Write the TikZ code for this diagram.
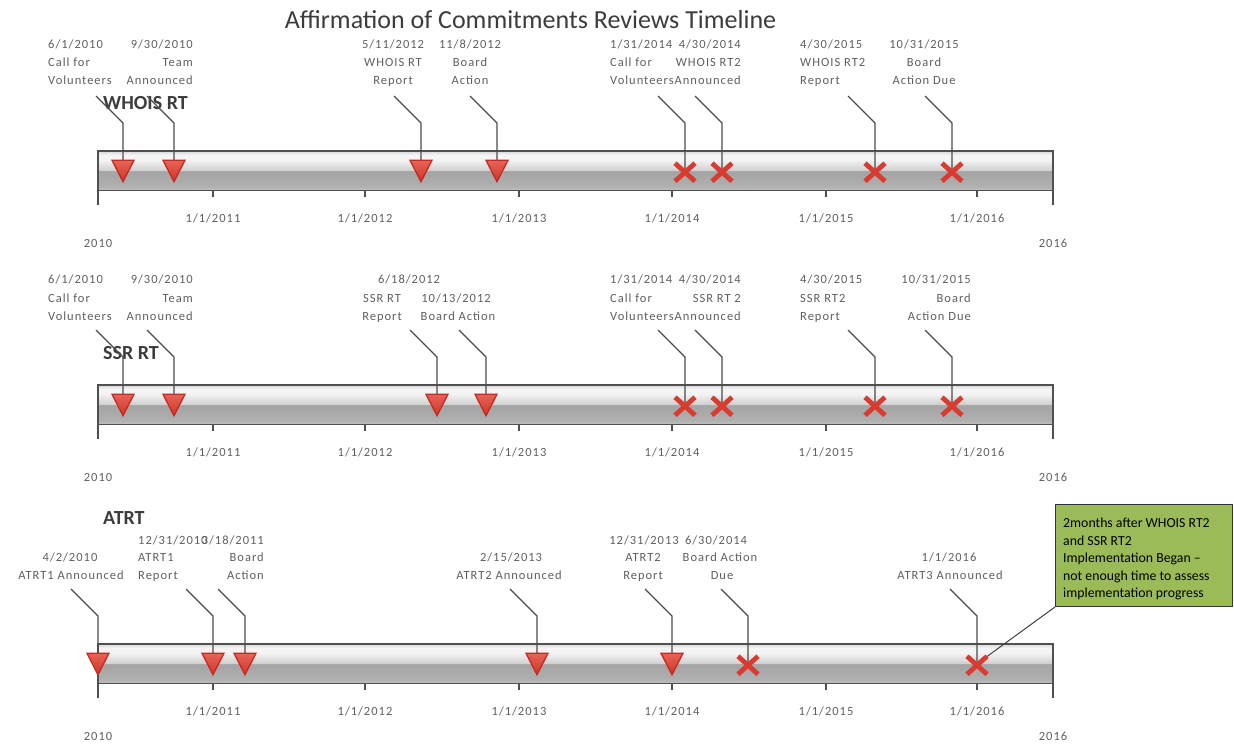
\documentclass[tikz,border=0pt]{standalone}
\usepackage{fontspec}
\setmainfont{Carlito}
\newfontfamily\labfont[LetterSpace=8]{Carlito}
\usetikzlibrary{calc}
\definecolor{labgray}{RGB}{95,95,95}
\definecolor{titlegray}{RGB}{60,60,60}
\definecolor{linegray}{RGB}{75,75,75}
\definecolor{barline}{RGB}{80,80,80}
\definecolor{tritop}{RGB}{230,100,86}
\definecolor{tribot}{RGB}{204,52,42}
\definecolor{triline}{RGB}{200,40,32}
\definecolor{xred}{RGB}{216,60,48}
\definecolor{notegreen}{RGB}{155,187,89}
\definecolor{bbot}{RGB}{192,192,192}
\definecolor{blow}{RGB}{176,176,176}
\definecolor{blow2}{RGB}{164,164,164}
\definecolor{bmid}{RGB}{208,208,208}
\definecolor{bhi}{RGB}{244,244,244}
\definecolor{btop}{RGB}{216,216,216}
\pgfdeclareverticalshading{barshade}{100bp}{color(0bp)=(bbot); color(25bp)=(bbot); color(30bp)=(blow); color(49.6bp)=(blow2); color(50.4bp)=(bmid); color(64bp)=(bhi); color(70bp)=(bhi); color(75bp)=(btop); color(100bp)=(btop)}
\tikzset{
  lab/.style={font=\labfont\fontsize{12.5}{15}\selectfont, text=labgray, inner sep=0pt, text height=8pt, text depth=0pt},
  rowname/.style={font=\bfseries\fontsize{20}{24}\selectfont, text=titlegray, inner sep=0pt, text height=13pt, text depth=0pt, anchor=west},
  titlestyle/.style={font=\fontsize{26}{30}\selectfont, text=titlegray, inner sep=0pt, text height=17pt, text depth=0pt},
  barbox/.style={draw=barline, line width=1.4pt, shading=barshade, minimum width=955pt, minimum height=39.5pt, inner sep=0pt},
  barend/.style={draw=barline, line width=1.4pt},
  tickline/.style={draw=barline, line width=1.3pt},
  leader/.style={draw=linegray, line width=1.1pt},
  trim/.style={draw=triline, line width=1.3pt, top color=tritop, bottom color=tribot, line join=miter},
  xmark/.style={draw=xred, line width=4.8pt},
  note/.style={draw=black!80, line width=1pt, fill=notegreen, minimum width=177pt, minimum height=102pt, inner sep=0pt, anchor=north west},
  notetext/.style={font=\fontsize{13.8}{17.5}\selectfont, text=black, align=left, inner sep=0pt, anchor=north west},
  callout/.style={draw=black!75, line width=1pt}
}
\newcommand\lab[5][center]{\node[lab,anchor=#1] (#2) at (#3,#4) {#5};}
\newcommand\tline[2]{%
  \node[barbox] (bar#1) at (575.5,#2+19.75) {};
  \draw[barend] (98,#2) -- (98,#2+54);
  \draw[barend] (1053,#2) -- (1053,#2+54);
  \foreach \tx/\ty in {213/2011,365/2012,519/2013,672/2014,826/2015,977/2016}{
    \draw[tickline] (\tx,#2+39.5) -- (\tx,#2+45.5);
    \node[lab] (tk#1\ty) at (\tx,#2+67) {1/1/\ty};
  }
  \node[lab] (ya#1) at (98,#2+92) {2010};
  \node[lab] (yb#1) at (1053,#2+92) {2016};
}
\newcommand\ev[3]{%
  \coordinate (#1s) at (#2-27,#3-55);
  \coordinate (#1k) at (#2,#3-28);
  \coordinate (#1) at (#2,#3+19.75);
  \draw[leader] (#1s) -- (#1k) -- (#1);
}
\newcommand\trimark[1]{\draw[trim, shift={(#1)}] (-11,-10.5) -- (11,-10.5) -- (0,11) -- cycle;}
\newcommand\xmark[1]{\draw[xmark, shift={(#1)}] (-10,-7.5) -- (10,10.5) (-10,10.5) -- (10,-7.5);}
\begin{document}
\begin{tikzpicture}[x=1pt,y=-1pt]
\useasboundingbox (0,0) rectangle (1234,747);
\node[titlestyle] (title) at (530.5,20) {Affirmation of Commitments Reviews Timeline};

% ---------------- Row 1: WHOIS RT
\tline{1}{151}
\node[rowname] (whois) at (103,103) {WHOIS RT};
\ev{a1}{123}{151}\ev{a2}{174}{151}\ev{a3}{421}{151}\ev{a4}{497}{151}
\ev{a5}{685}{151}\ev{a6}{722}{151}\ev{a7}{875}{151}\ev{a8}{952}{151}
\trimark{a1}\trimark{a2}\trimark{a3}\trimark{a4}
\xmark{a5}\xmark{a6}\xmark{a7}\xmark{a8}
\lab[west]{p1a1}{48}{44}{6/1/2010}\lab[west]{p1a2}{48}{62}{Call for}\lab[west]{p1a3}{48}{80}{Volunteers}
\lab[east]{p1b1}{193}{44}{9/30/2010}\lab[east]{p1b2}{193}{62}{Team}\lab[east]{p1b3}{193}{80}{Announced}
\lab{p1c1}{393}{44}{5/11/2012}\lab{p1c2}{393}{62}{WHOIS RT}\lab{p1c3}{393}{80}{Report}
\lab{p1d1}{470}{44}{11/8/2012}\lab{p1d2}{470}{62}{Board}\lab{p1d3}{470}{80}{Action}
\lab[west]{p1e1}{610}{44}{1/31/2014}\lab[west]{p1e2}{610}{62}{Call for}\lab[west]{p1e3}{610}{80}{Volunteers}
\lab[east]{p1f1}{741}{44}{4/30/2014}\lab[east]{p1f2}{741}{62}{WHOIS RT2}\lab[east]{p1f3}{741}{80}{Announced}
\lab[west]{p1g1}{800}{44}{4/30/2015}\lab[west]{p1g2}{800}{62}{WHOIS RT2}\lab[west]{p1g3}{800}{80}{Report}
\lab{p1h1}{924}{44}{10/31/2015}\lab{p1h2}{924}{62}{Board}\lab{p1h3}{924}{80}{Action Due}

% ---------------- Row 2: SSR RT
\tline{2}{385}
\node[rowname] (ssr) at (103,353) {SSR RT};
\ev{b1}{123}{385}\ev{b2}{174}{385}\ev{b3}{437}{385}\ev{b4}{486}{385}
\ev{b5}{685}{385}\ev{b6}{722}{385}\ev{b7}{875}{385}\ev{b8}{952}{385}
\trimark{b1}\trimark{b2}\trimark{b3}\trimark{b4}
\xmark{b5}\xmark{b6}\xmark{b7}\xmark{b8}
\lab[west]{p2a1}{48}{279}{6/1/2010}\lab[west]{p2a2}{48}{298}{Call for}\lab[west]{p2a3}{48}{316}{Volunteers}
\lab[east]{p2b1}{193}{279}{9/30/2010}\lab[east]{p2b2}{193}{298}{Team}\lab[east]{p2b3}{193}{316}{Announced}
\lab{p2c1}{409}{279}{6/18/2012}\lab{p2c2}{382}{298}{SSR RT}\lab{p2c3}{382}{316}{Report}
\lab{p2d1}{456}{298}{10/13/2012}\lab{p2d2}{458}{316}{Board Action}
\lab[west]{p2e1}{610}{279}{1/31/2014}\lab[west]{p2e2}{610}{298}{Call for}\lab[west]{p2e3}{610}{316}{Volunteers}
\lab[east]{p2f1}{741}{279}{4/30/2014}\lab[east]{p2f2}{741}{298}{SSR RT 2}\lab[east]{p2f3}{741}{316}{Announced}
\lab[west]{p2g1}{800}{279}{4/30/2015}\lab[west]{p2g2}{800}{298}{SSR RT2}\lab[west]{p2g3}{800}{316}{Report}
\lab[east]{p2h1}{971}{279}{10/31/2015}\lab[east]{p2h2}{971}{298}{Board}\lab[east]{p2h3}{971}{316}{Action Due}

% ---------------- Row 3: ATRT
\tline{3}{644}
\node[rowname] (atrt) at (103,518) {ATRT};
\ev{c1}{98}{644}\ev{c2}{213}{644}\ev{c3}{245}{644}\ev{c4}{537}{644}\ev{c5}{672}{644}
\ev{c6}{748}{644}\ev{c7}{977}{644}
\node[note] (note) at (1055,504) {};
\draw[callout] (c7) -- (note.south west);
\trimark{c1}\trimark{c2}\trimark{c3}\trimark{c4}\trimark{c5}
\xmark{c6}\xmark{c7}
\node[notetext] (notetxt) at (1063,518) {2months after WHOIS RT2\\and SSR RT2\\Implementation Began --\\not enough time to assess\\implementation progress};
\lab{p3a1}{70}{557}{4/2/2010}\lab[east]{p3a2}{124}{575}{ATRT1 Announced}
\lab[west]{p3b1}{138}{540}{12/31/2010}\lab[west]{p3b2}{138}{557}{ATRT1}\lab[west]{p3b3}{138}{575}{Report}
\lab[east]{p3c1}{264}{540}{3/18/2011}\lab[east]{p3c2}{264}{557}{Board}\lab[east]{p3c3}{264}{575}{Action}
\lab{p3d1}{511}{557}{2/15/2013}\lab{p3d2}{509}{575}{ATRT2 Announced}
\lab{p3e1}{644}{540}{12/31/2013}\lab{p3e2}{643}{557}{ATRT2}\lab{p3e3}{643}{575}{Report}
\lab{p3f1}{716}{540}{6/30/2014}\lab{p3f2}{720}{557}{Board Action}\lab{p3f3}{722}{575}{Due}
\lab{p3g1}{949}{557}{1/1/2016}\lab{p3g2}{950}{575}{ATRT3 Announced}
\end{tikzpicture}
\end{document}
